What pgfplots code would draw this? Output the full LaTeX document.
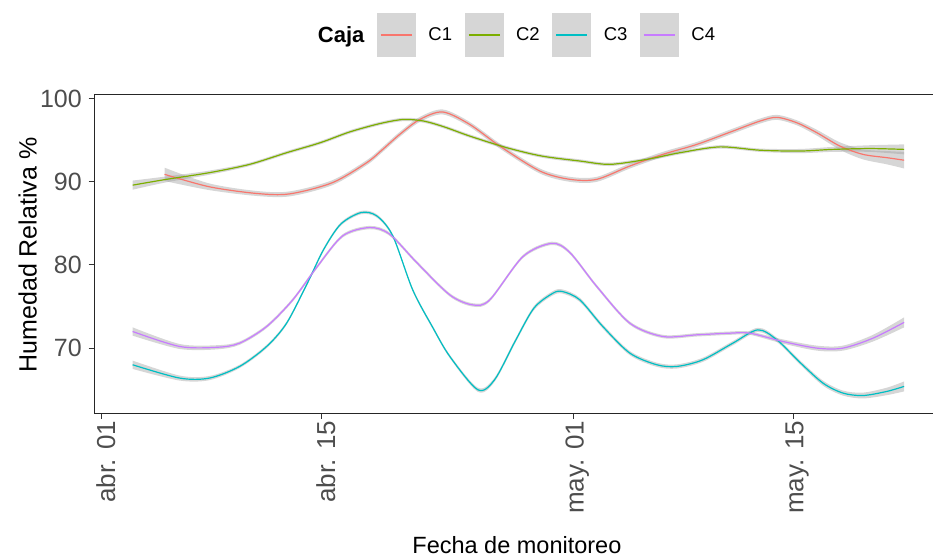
\documentclass[border=0pt]{standalone}
\usepackage{fontspec}
\setmainfont{Liberation Sans}
\usepackage{pgfplots}
\usepackage{pgfplotstable}
\pgfplotsset{compat=1.18}
\usepgfplotslibrary{fillbetween}
\definecolor{cA}{HTML}{F8766D}
\definecolor{cB}{HTML}{7CAE00}
\definecolor{cC}{HTML}{00BFC4}
\definecolor{cD}{HTML}{C77CFF}
\definecolor{bandc}{HTML}{999999}
\definecolor{keyc}{HTML}{D6D6D6}
\definecolor{tickc}{HTML}{4D4D4D}

\pgfplotstableread{
x y e
3.99 90.9 0.8
6.85 89.4 0.4
9.85 88.6 0.3
11.96 88.55 0.3
14.68 89.9 0.3
16.86 92.3 0.3
17.88 93.9 0.3
18.96 95.7 0.3
20.24 97.5 0.3
21.7 98.4 0.3
23.42 96.9 0.3
25.33 94.3 0.3
27.88 91.3 0.3
29.79 90.3 0.3
31.51 90.3 0.3
33.61 91.9 0.3
35.71 93.3 0.3
37.88 94.5 0.3
40.17 96.1 0.3
41.89 97.3 0.3
42.97 97.75 0.3
44.24 97.1 0.3
45.52 95.9 0.35
46.98 94.3 0.45
48.45 93.3 0.6
49.98 92.9 0.8
51.07 92.6 1.0
}\tabA

\pgfplotstableread{
x y e
1.96 89.6 0.55
4.12 90.3 0.35
6.85 91.1 0.25
9.41 92.1 0.2
11.76 93.5 0.2
13.9 94.7 0.2
15.78 96.0 0.2
17.69 97.0 0.2
19.2 97.5 0.2
20.5 97.3 0.2
21.8 96.6 0.2
23.42 95.5 0.2
25.78 94.1 0.2
28.0 93.1 0.2
30.43 92.5 0.2
32.34 92.1 0.2
34.69 92.7 0.2
36.8 93.5 0.2
39.34 94.2 0.2
41.89 93.8 0.2
44.43 93.7 0.25
46.53 93.9 0.3
48.9 94.0 0.4
51.07 93.9 0.6
}\tabB

\pgfplotstableread{
x y e
1.96 68.0 0.5
4.95 66.4 0.3
6.85 66.4 0.25
8.77 67.8 0.2
10.49 70.2 0.2
11.76 73.0 0.2
13.08 77.8 0.2
14.1 81.8 0.2
15.2 84.9 0.2
16.5 86.3 0.2
17.5 85.9 0.2
18.52 83.5 0.2
19.79 77.0 0.2
21.06 72.5 0.2
22.15 69.0 0.2
23.93 65.0 0.25
25.0 66.2 0.25
26.3 70.8 0.25
27.5 74.8 0.25
28.71 76.6 0.25
29.34 76.8 0.25
30.43 75.8 0.25
31.89 72.6 0.25
33.61 69.4 0.25
35.33 68.0 0.25
36.61 67.8 0.25
38.26 68.6 0.25
40.17 70.6 0.25
41.76 72.2 0.25
42.97 71.0 0.25
44.43 68.3 0.25
45.9 65.8 0.3
47.17 64.6 0.3
48.45 64.3 0.35
49.98 64.8 0.45
51.07 65.4 0.6
}\tabC

\pgfplotstableread{
x y e
1.96 72.0 0.5
4.95 70.2 0.3
7.31 70.1 0.25
8.77 70.6 0.2
10.49 72.6 0.2
12.15 75.8 0.2
13.71 79.8 0.2
15.33 83.5 0.2
17.05 84.5 0.2
18.32 83.7 0.2
20.04 80.3 0.2
22.15 76.4 0.2
23.61 75.2 0.2
24.69 75.8 0.2
26.8 81.0 0.2
28.64 82.6 0.2
29.79 81.5 0.2
31.51 77.4 0.2
33.61 73.0 0.2
35.71 71.4 0.2
37.88 71.6 0.2
39.98 71.8 0.2
41.25 71.8 0.2
43.35 70.8 0.25
45.52 70.0 0.3
47.17 70.0 0.3
49.09 71.2 0.4
51.07 73.1 0.6
}\tabD

\begin{document}
\begin{tikzpicture}
\begin{axis}[
  scale only axis,
  width=847.5pt, height=318.5pt,
  xmin=-0.5, xmax=53.45, ymin=62.2, ymax=100.5,
  axis line style={black!85, line width=1pt},
  tick style={black!80, line width=1pt},
  tick align=outside,
  major tick length=5.5pt,
  xtick pos=bottom, ytick pos=left,
  xtick={0,14,30,44},
  xticklabels={abr. 01, abr. 15, may. 01, may. 15},
  ytick={70,80,90,100},
  yticklabels={70,80,90,100},
  x tick label style={rotate=90, anchor=east, font=\fontsize{26}{26}\selectfont, text=tickc, inner sep=2pt, yshift=-4pt},
  y tick label style={anchor=east, font=\fontsize{25}{25}\selectfont, text=tickc, inner sep=2pt, xshift=-4.5pt},
  xlabel={Fecha de monitoreo},
  xlabel style={font=\fontsize{23.5}{25}\selectfont, at={(axis description cs:0.499,-0.4405)}, anchor=base},
  ylabel={Humedad Relativa \%},
  ylabel style={font=\fontsize{25}{26}\selectfont, at={(axis description cs:-0.0676,0.496)}, anchor=base, rotate=0},
  legend columns=5,
  legend cell align=left,
  legend style={draw=none, fill=none, inner sep=0pt, outer sep=0pt, column sep=0pt,
     nodes={inner sep=0pt}, font=\fontsize{18.5}{20}\selectfont,
     at={(axis description cs:0.2643,1.1868)}, anchor=west},
  legend image code/.code={%
     \path[draw=none, fill=none] (-13pt,0pt) -- (51pt,0pt);
     \fill[keyc] (0pt,-21pt) rectangle (38pt,21pt);
     \draw[#1, line width=1.2pt] (3.5pt,0pt) -- (34.5pt,0pt);},
]
\addlegendimage{empty legend}
\addlegendentry{\fontsize{22}{24}\selectfont\bfseries Caja}

% bands
\addplot[draw=none, smooth, name path=au, forget plot] table[x=x, y expr=\thisrow{y}+\thisrow{e}] {\tabA};
\addplot[draw=none, smooth, name path=al, forget plot] table[x=x, y expr=\thisrow{y}-\thisrow{e}] {\tabA};
\addplot[bandc, fill opacity=0.4, draw=none, forget plot] fill between[of=au and al];
\addplot[draw=none, smooth, name path=bu, forget plot] table[x=x, y expr=\thisrow{y}+\thisrow{e}] {\tabB};
\addplot[draw=none, smooth, name path=bl, forget plot] table[x=x, y expr=\thisrow{y}-\thisrow{e}] {\tabB};
\addplot[bandc, fill opacity=0.4, draw=none, forget plot] fill between[of=bu and bl];
\addplot[draw=none, smooth, name path=cu, forget plot] table[x=x, y expr=\thisrow{y}+\thisrow{e}] {\tabC};
\addplot[draw=none, smooth, name path=cl, forget plot] table[x=x, y expr=\thisrow{y}-\thisrow{e}] {\tabC};
\addplot[bandc, fill opacity=0.4, draw=none, forget plot] fill between[of=cu and cl];
\addplot[draw=none, smooth, name path=du, forget plot] table[x=x, y expr=\thisrow{y}+\thisrow{e}] {\tabD};
\addplot[draw=none, smooth, name path=dl, forget plot] table[x=x, y expr=\thisrow{y}-\thisrow{e}] {\tabD};
\addplot[bandc, fill opacity=0.4, draw=none, forget plot] fill between[of=du and dl];

% lines
\addplot[cA, line width=1.2pt, smooth] table[x=x, y=y] {\tabA};
\addlegendentry{C1}
\addplot[cB, line width=1.2pt, smooth] table[x=x, y=y] {\tabB};
\addlegendentry{C2}
\addplot[cC, line width=1.2pt, smooth] table[x=x, y=y] {\tabC};
\addlegendentry{C3}
\addplot[cD, line width=1.2pt, smooth] table[x=x, y=y] {\tabD};
\addlegendentry{C4}
\end{axis}
\pgfresetboundingbox
\path (-94pt,-144pt) rectangle (839pt,413pt);
\end{tikzpicture}
\end{document}
